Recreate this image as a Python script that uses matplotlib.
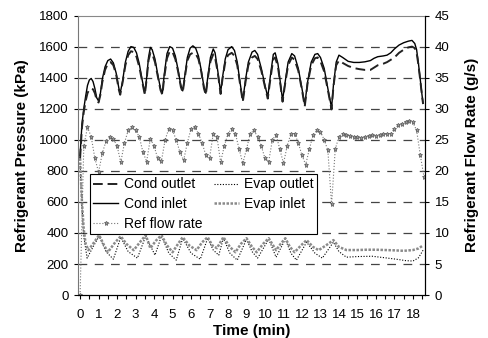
import matplotlib.pyplot as plt
from matplotlib.lines import Line2D

plt.rcParams['font.family'] = ['Liberation Sans', 'DejaVu Sans']

# Condenser pressures (kPa), sampled at the same times
cond_time = [0, 0.1, 0.2, 0.3, 0.4, 0.5, 0.6, 0.7, 0.8, 0.9, 1.0, 1.1, 1.2, 1.35, 1.5, 1.65, 1.8, 1.95, 2.1, 2.17,
             2.3, 2.45, 2.6, 2.75, 2.9, 3.05, 3.2, 3.35, 3.5, 3.6, 3.7, 3.8, 3.9, 4.05, 4.2, 4.35, 4.45, 4.55, 4.7, 4.85,
             5.0, 5.15, 5.3, 5.45, 5.55, 5.65, 5.8, 5.95, 6.1, 6.25, 6.4, 6.55, 6.7, 6.8, 6.9, 7.05, 7.2, 7.3, 7.45, 7.6,
             7.7, 7.85, 8.0, 8.2, 8.35, 8.5, 8.65, 8.8, 8.95, 9.1, 9.3, 9.45, 9.6, 9.8, 10.0, 10.15, 10.3, 10.45, 10.55, 10.7,
             10.85, 10.95, 11.1, 11.25, 11.45, 11.6, 11.8, 12.0, 12.15, 12.3, 12.5, 12.7, 12.85, 13.0, 13.2, 13.4, 13.6, 13.7, 13.85, 14.0,
             14.2, 14.5, 14.8, 15.1, 15.4, 15.7, 15.9, 16.1, 16.4, 16.6, 16.8, 17.0, 17.25, 17.5, 17.75, 17.95, 18.1, 18.2, 18.3, 18.4,
             18.5, 18.55]
cond_inlet = [900, 1100, 1200, 1280, 1350, 1385, 1395, 1375, 1330, 1270, 1250, 1300, 1390, 1470, 1510, 1520, 1495, 1430, 1330, 1300,
              1380, 1500, 1570, 1600, 1595, 1560, 1490, 1390, 1300, 1400, 1530, 1595, 1580, 1520, 1420, 1330, 1300, 1420, 1555, 1600,
              1590, 1540, 1450, 1350, 1315, 1400, 1530, 1590, 1605, 1590, 1540, 1450, 1340, 1300, 1400, 1530, 1585, 1560, 1440, 1305,
              1400, 1520, 1580, 1600, 1575, 1500, 1370, 1255, 1390, 1500, 1565, 1575, 1550, 1460, 1350, 1275, 1420, 1550, 1560, 1490,
              1350, 1255, 1380, 1500, 1555, 1540, 1460, 1330, 1225, 1370, 1500, 1550, 1555, 1530, 1460, 1330, 1205, 1350, 1500, 1545,
              1530, 1505, 1498, 1498, 1502, 1510, 1525, 1535, 1540, 1545, 1560, 1585, 1610, 1625, 1635, 1640, 1620, 1580, 1490, 1385,
              1280, 1235]
cond_outlet = [880, 1080, 1180, 1250, 1300, 1325, 1330, 1325, 1300, 1255, 1240, 1290, 1370, 1450, 1490, 1500, 1480, 1420, 1320, 1290,
               1370, 1480, 1545, 1570, 1565, 1535, 1470, 1380, 1290, 1390, 1510, 1560, 1555, 1500, 1410, 1320, 1290, 1400, 1525, 1570,
               1565, 1520, 1440, 1340, 1305, 1390, 1510, 1550, 1560, 1555, 1520, 1440, 1330, 1290, 1390, 1505, 1550, 1530, 1430, 1295,
               1390, 1500, 1545, 1560, 1540, 1480, 1360, 1245, 1375, 1480, 1530, 1540, 1520, 1445, 1340, 1265, 1400, 1520, 1530, 1470,
               1340, 1245, 1370, 1480, 1530, 1515, 1445, 1320, 1215, 1360, 1480, 1525, 1530, 1505, 1440, 1320, 1195, 1340, 1480, 1510,
               1495, 1475, 1462, 1455, 1450, 1450, 1465, 1480, 1490, 1500, 1515, 1530, 1560, 1580, 1595, 1600, 1590, 1560, 1480, 1380,
               1275, 1230]

# Evaporator pressures (kPa)
evap_in_time = [0, 0.1, 0.2, 0.3, 0.45, 0.7, 1.03, 1.3, 1.5, 1.9, 2.2, 2.5, 2.9, 3.3, 3.55,
                3.8, 4.1, 4.4, 4.7, 5.0, 5.3, 5.55, 5.9, 6.3, 6.6, 6.9, 7.15, 7.4, 7.75, 8.1,
                8.4, 8.7, 9.0, 9.3, 9.55, 9.9, 10.2, 10.6, 10.85, 11.1, 11.35, 11.6, 11.95,
                12.25, 12.6, 12.9, 13.3, 13.7, 14.0, 14.4, 15.0, 15.5, 16.0, 16.5, 17.0, 17.5,
                18.0, 18.3, 18.55]
evap_inlet = [880, 600, 420, 330, 289, 330, 386, 320, 276, 340, 379, 330, 289, 350, 386, 302,
              350, 386, 320, 276, 330, 373, 320, 289, 340, 373, 320, 302, 373, 310, 276, 330,
              366, 310, 276, 330, 366, 289, 330, 366, 310, 276, 320, 354, 310, 289, 320, 354,
              310, 290, 290, 292, 292, 290, 288, 285, 290, 300, 320]
evap_out_time = [0, 0.1, 0.2, 0.38, 0.7, 1.03, 1.4, 1.8, 2.2, 2.6, 3.1, 3.55, 4.05, 4.4, 4.8,
                 5.2, 5.55, 6.0, 6.5, 6.9, 7.2, 7.5, 7.75, 8.1, 8.5, 9.0, 9.3, 9.6, 10.2, 10.6,
                 11.1, 11.4, 11.7, 12.25, 12.7, 13.1, 13.7, 14.0, 14.4, 15.0, 15.8, 16.5, 17.1,
                 17.6, 18.0, 18.3, 18.55]
evap_outlet = [850, 560, 380, 238, 310, 380, 280, 231, 372, 280, 238, 380, 257, 380, 270, 225,
               366, 270, 231, 366, 290, 257, 366, 270, 225, 360, 280, 238, 360, 244, 360, 270,
               225, 341, 270, 238, 341, 280, 244, 248, 250, 240, 231, 222, 219, 240, 289]

# Refrigerant flow rate (g/s)
flow_time = [0.0, 0.2, 0.4, 0.6, 0.8, 1.0, 1.2, 1.4, 1.6, 1.8, 2.0, 2.2, 2.4, 2.6, 2.8, 3.0,
             3.2, 3.4, 3.6, 3.8, 4.0, 4.2, 4.4, 4.6, 4.8, 5.0, 5.2, 5.4, 5.6, 5.8, 6.0, 6.2,
             6.4, 6.6, 6.8, 7.0, 7.2, 7.4, 7.6, 7.8, 8.0, 8.2, 8.4, 8.6, 8.8, 9.0, 9.2, 9.4,
             9.6, 9.8, 10.0, 10.2, 10.4, 10.6, 10.8, 11.0, 11.2, 11.4, 11.6, 11.8, 12.0, 12.2,
             12.4, 12.6, 12.8, 13.0, 13.2, 13.4, 13.6, 13.8, 14.0, 14.2, 14.4, 14.6, 14.8,
             15.0, 15.2, 15.4, 15.6, 15.8, 16.0, 16.2, 16.4, 16.6, 16.8, 17.0, 17.2, 17.4,
             17.6, 17.8, 18.0, 18.2, 18.4, 18.6]
flow_rate = [0, 24, 27, 25.5, 22, 19.8, 22.8, 24.8, 25.4, 25.2, 24, 21.4, 24.5, 26.5, 27, 26.5,
             25.5, 23, 21.5, 25.2, 24, 22, 21.6, 25, 26.8, 26.5, 25, 23, 21.7, 24.5, 26.8, 27,
             26, 24.5, 22.5, 22, 26, 25.5, 21.4, 24, 26, 26.8, 26, 23.5, 21.2, 23.5, 26, 26.5,
             25.5, 24, 22, 21.5, 25, 25.8, 23.5, 21.2, 24, 26, 26, 24.5, 22.5, 21, 23.5, 25.8,
             26.5, 26.3, 25, 23.3, 14.6, 23.5, 25.5, 26, 25.8, 25.6, 25.4, 25.4, 25.3, 25.5,
             25.6, 25.7, 25.6, 25.8, 25.9, 25.9, 26.0, 26.8, 27.3, 27.6, 27.9, 28.1, 27.8,
             26.5, 22.5, 19]

fig = plt.figure(figsize=(4.89, 3.38), dpi=100)
ax = fig.add_axes([0.160, 0.127, 0.709, 0.827])
ax2 = ax.twinx()

# dashed grid
for v in range(200, 1800, 200):
    ax.axhline(v, color='#444444', lw=0.9, dashes=(7, 6), zorder=0)

ax.plot(evap_out_time, evap_outlet, color='black', lw=0.8, ls=(0, (1, 1.5)))
ax.plot(evap_in_time, evap_inlet, color='#8a8a8a', lw=1.8, ls=(0, (1, 0.6)))
ax.plot(cond_time, cond_inlet, color='black', lw=1.0)
ax.plot(cond_time, cond_outlet, color='#222222', lw=1.4, dashes=(5, 2.5))
ax2.plot(flow_time, flow_rate, color='#777777', lw=0.8, ls=':', marker='*',
         ms=3.6, mfc='#999999', mec='#555555', mew=0.5)

ax.set_xlim(-0.1, 18.65)
ax.set_ylim(0, 1800)
ax2.set_ylim(0, 45)
ax.set_xticks(range(0, 19))
ax.set_xticks([x + 0.5 for x in range(0, 19)], minor=True)
ax.set_yticks(range(0, 1801, 200))
ax2.set_yticks(range(0, 46, 5))

for a in (ax, ax2):
    a.tick_params(labelsize=9.5, length=3, width=0.8, pad=4)
ax.tick_params(axis='x', which='both', length=3, width=0.8, pad=7)
ax.spines['left'].set_color('#777777')
ax.spines['top'].set_color('#888888')
ax2.spines['left'].set_visible(False)
ax2.spines['top'].set_visible(False)

ax.set_xlabel('Time (min)', fontsize=11, fontweight='bold', labelpad=2)
ax.set_ylabel('Refrigerant Pressure (kPa)', fontsize=11, fontweight='bold', labelpad=7)
ax2.set_ylabel('Refrigerant Flow Rate (g/s)', fontsize=11, fontweight='bold', labelpad=11)

handles = [
    Line2D([], [], color='#222222', lw=1.4, dashes=(5, 2.5)),
    Line2D([], [], color='black', lw=1.0),
    Line2D([], [], color='#777777', lw=0.8, ls=':', marker='*', ms=3.6,
           mfc='#999999', mec='#555555', mew=0.5),
    Line2D([], [], color='black', lw=0.8, ls=(0, (1, 1.5))),
    Line2D([], [], color='#8a8a8a', lw=1.8, ls=(0, (1, 0.6))),
]
labels = ['Cond outlet', 'Cond inlet', 'Ref flow rate', 'Evap outlet', 'Evap inlet']
leg = ax2.legend(handles, labels, ncol=2, fontsize=10, loc='upper left',
                 bbox_to_anchor=(90 / 489, 1 - 174 / 338), bbox_transform=fig.transFigure,
                 borderaxespad=0, fancybox=False, framealpha=1, edgecolor='black',
                 handlelength=1.8, handletextpad=0.4, columnspacing=0.8,
                 labelspacing=0.4, borderpad=0.25)
leg.get_frame().set_linewidth(0.8)

plt.savefig('out.png', dpi=100)
